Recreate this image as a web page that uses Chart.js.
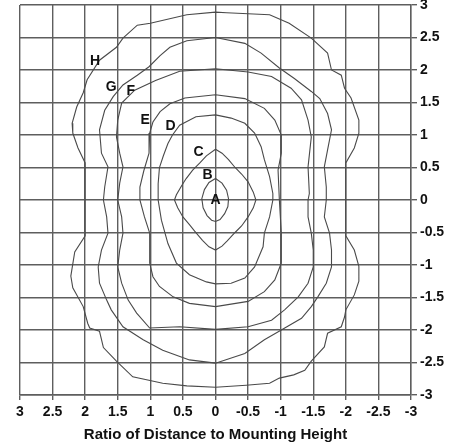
<!DOCTYPE html>
<html>
<head>
<meta charset="utf-8">
<script src="https://cdn.jsdelivr.net/npm/chart.js@4/dist/chart.umd.min.js"></script>
<style>
  html, body { margin: 0; padding: 0; background: #fff; }
  #wrap { width: 455px; height: 446px; }
</style>
</head>
<body>
<div id="wrap"><canvas id="grafico"></canvas></div>
<script>
// ticks on both axes (ratio of distance to mounting height)
const tickValues = [3, 2.5, 2, 1.5, 1, 0.5, 0, -0.5, -1, -1.5, -2, -2.5, -3];

// contour B
const bX = [0, 0.1, 0.17, 0.21, 0.19, 0.13, 0.06, 0, -0.07, -0.14, -0.19, -0.2, -0.17, -0.1, 0];
const bY = [0.33, 0.27, 0.16, 0.02, -0.12, -0.24, -0.31, -0.33, -0.3, -0.21, -0.1, 0.02, 0.15, 0.26, 0.33];

// contour C
const cX = [0, 0.14, 0.24, 0.35, 0.45, 0.52, 0.6, 0.63, 0.58, 0.5, 0.4, 0.32, 0.2, 0.1, 0,
            -0.1, -0.18, -0.3, -0.4, -0.5, -0.58, -0.62, -0.58, -0.5, -0.4, -0.3, -0.2, -0.1, 0];
const cY = [0.78, 0.68, 0.57, 0.46, 0.33, 0.22, 0.08, 0, -0.12, -0.26, -0.38, -0.48, -0.62, -0.72, -0.77,
            -0.71, -0.63, -0.5, -0.4, -0.26, -0.12, 0, 0.12, 0.28, 0.4, 0.5, 0.62, 0.72, 0.78];

// contour D
const dX = [0, 0.3, 0.55, 0.66, 0.73, 0.8, 0.86, 0.88, 0.88, 0.83, 0.73, 0.6, 0.4, 0.14, 0,
            -0.24, -0.45, -0.6, -0.73, -0.75, -0.83, -0.88, -0.88, -0.83, -0.75, -0.7, -0.6, -0.45, -0.24, 0];
const dY = [1.31, 1.28, 1.15, 1.0, 0.87, 0.68, 0.5, 0.25, 0, -0.31, -0.67, -0.97, -1.15, -1.26, -1.29,
            -1.28, -1.2, -1.03, -0.72, -0.51, -0.26, 0, 0.1, 0.36, 0.62, 0.82, 1.03, 1.18, 1.26, 1.31];

// contour E
const eX = [0, 0.47, 0.7, 0.85, 0.96, 1.01, 1.02, 1.1, 1.16, 1.16, 1.09, 1.01, 1.01, 0.96, 0.86, 0.65, 0.4, 0,
            -0.5, -0.75, -0.91, -1.01, -1.01, -0.98, -0.96, -1.01, -1.01, -0.91, -0.75, -0.45, 0];
const eY = [1.62, 1.57, 1.48, 1.36, 1.2, 1.03, 0.72, 0.45, 0.2, 0, -0.26, -0.51, -0.97, -1.18, -1.33, -1.49, -1.59, -1.64,
            -1.56, -1.41, -1.23, -0.97, -0.51, 0, 0.46, 0.72, 1.0, 1.23, 1.41, 1.56, 1.62];

// contour F
const fX = [0, 0.55, 0.92, 1.24, 1.44, 1.5, 1.52, 1.47, 1.42, 1.47, 1.5, 1.44, 1.42, 1.47, 1.5, 1.44, 1.34, 1.21, 1.01, 0.55, 0,
            -0.5, -0.86, -1.06, -1.27, -1.42, -1.5, -1.5, -1.47, -1.42, -1.42, -1.44, -1.42, -1.47, -1.42, -1.32, -1.16, -0.86, -0.5, 0];
const fY = [2.02, 1.98, 1.84, 1.69, 1.49, 1.23, 0.97, 0.72, 0.51, 0.26, 0, -0.26, -0.51, -0.77, -1.03, -1.28, -1.54, -1.74, -1.97, -1.95, -1.99,
            -1.95, -1.85, -1.69, -1.49, -1.28, -1.03, -0.77, -0.51, -0.26, 0, 0.1, 0.51, 0.97, 1.23, 1.54, 1.72, 1.9, 1.97, 2.02];

// contour G
const gX = [0, 0.44, 0.7, 0.85, 1.02, 1.2, 1.42, 1.57, 1.7, 1.78, 1.75, 1.65, 1.7, 1.72,
            1.67, 1.65, 1.75, 1.8, 1.78, 1.67, 1.6, 1.42, 1.11, 0.81, 0.4, 0,
            -0.45, -0.75, -1.01, -1.32, -1.47, -1.57, -1.7, -1.78, -1.78, -1.75, -1.67, -1.7,
            -1.7, -1.67, -1.72, -1.78, -1.72, -1.6, -1.47, -1.21, -0.98, -0.7, -0.45, 0];
const gY = [2.5, 2.45, 2.35, 2.22, 2.05, 1.92, 1.77, 1.59, 1.38, 1.08, 0.72, 0.51, 0.2, 0,
            -0.26, -0.51, -0.77, -1.03, -1.28, -1.54, -1.69, -1.95, -2.15, -2.31, -2.46, -2.51,
            -2.36, -2.15, -2.0, -1.82, -1.64, -1.49, -1.28, -1.03, -0.77, -0.51, -0.26, 0,
            0.2, 0.51, 0.77, 1.08, 1.33, 1.56, 1.67, 1.87, 2.03, 2.26, 2.41, 2.5];

// contour H
const hX = [0, 0.44, 1.0, 1.2, 1.42, 1.52, 1.78, 1.97, 2.03, 2.13, 2.2, 2.19, 2.11, 2.0,
            2.0, 2.16, 2.22, 2.19, 2.03, 1.96, 1.93, 1.78, 1.72, 1.52, 1.27, 0.81, 0.44, 0,
            -0.47, -0.83, -0.98, -1.2, -1.37, -1.47, -1.67, -1.72, -1.93, -1.98, -2.0, -2.13, -2.2, -2.2, -2.13, -2.0,
            -2.0, -2.13, -2.2, -2.2, -2.08, -1.98, -1.93, -1.78, -1.72, -1.47, -1.13, -0.83, -0.17, 0];
const hY = [2.89, 2.85, 2.72, 2.69, 2.49, 2.35, 2.15, 1.85, 1.65, 1.43, 1.18, 1.03, 0.8, 0.57,
            -0.55, -0.8, -1.17, -1.35, -1.64, -1.9, -1.97, -2.02, -2.27, -2.48, -2.72, -2.82, -2.86, -2.88,
            -2.85, -2.82, -2.74, -2.69, -2.62, -2.48, -2.26, -2.05, -1.95, -1.8, -1.69, -1.46, -1.25, -1.02, -0.77, -0.55,
            0.57, 0.8, 1.03, 1.23, 1.57, 1.72, 1.92, 2.0, 2.26, 2.49, 2.72, 2.85, 2.88, 2.89];

// contour letters
const letras = ['H', 'G', 'F', 'E', 'D', 'C', 'B', 'A'];
const letrasX = [1.85, 1.6, 1.3, 1.08, 0.69, 0.26, 0.12, 0];
const letrasY = [2.13, 1.73, 1.67, 1.23, 1.13, 0.74, 0.38, 0];

function puntos(xs, ys) {
    return xs.map((x, i) => ({ x: x, y: ys[i] }));
}

function contorno(xs, ys) {
    return {
        data: puntos(xs, ys),
        showLine: true,
        borderColor: '#4a4a4a',
        borderWidth: 1.1,
        pointRadius: 0,
        tension: 0,
        fill: false
    };
}

const fuente = 'Liberation Sans, Arial, sans-serif';

const etiquetas = {
    id: 'etiquetas',
    afterDatasetsDraw(chart) {
        const ctx = chart.ctx;
        const sx = chart.scales.x;
        const sy = chart.scales.y;
        ctx.save();
        ctx.font = 'bold 14px ' + fuente;
        ctx.fillStyle = '#111';
        ctx.textAlign = 'center';
        ctx.textBaseline = 'middle';
        letras.forEach((t, i) => {
            ctx.fillText(t, sx.getPixelForValue(letrasX[i]), sy.getPixelForValue(letrasY[i]));
        });
        ctx.restore();
    }
};

// the outer labels may spill over the edges, as in the original
function sinRelleno(s) {
    s.paddingTop = 0;
    s.paddingBottom = 0;
    s.paddingLeft = 0;
    s.paddingRight = 0;
}

const ctx = document.getElementById('grafico').getContext('2d');
new Chart(ctx, {
    type: 'scatter',
    data: {
        datasets: [
            contorno(bX, bY),
            contorno(cX, cY),
            contorno(dX, dY),
            contorno(eX, eY),
            contorno(fX, fY),
            contorno(gX, gY),
            contorno(hX, hY)
        ]
    },
    options: {
        responsive: true,
        maintainAspectRatio: false,
        animation: false,
        layout: { padding: { left: 20, top: 5, right: 0, bottom: 0 } },
        plugins: {
            legend: { display: false },
            tooltip: { enabled: false }
        },
        scales: {
            x: {
                type: 'linear',
                reverse: true,
                min: -3,
                max: 3,
                afterBuildTicks: s => { s.ticks = tickValues.map(v => ({ value: v })); },
                afterFit: s => { s.height = 51; sinRelleno(s); },
                ticks: {
                    color: '#111',
                    padding: 4,
                    maxRotation: 0,
                    font: { family: fuente, size: 14, weight: 'bold' },
                    callback: v => String(v)
                },
                grid: { color: '#5e5e5e', lineWidth: 1.4, tickLength: 5, tickColor: '#5e5e5e' },
                border: { color: '#5e5e5e', width: 1.4 },
                title: {
                    display: true,
                    text: 'Ratio of Distance to Mounting Height',
                    color: '#111',
                    font: { family: fuente, size: 15, weight: 'bold' },
                    padding: { top: 0, bottom: 2 }
                }
            },
            y: {
                type: 'linear',
                position: 'right',
                min: -3,
                max: 3,
                afterBuildTicks: s => { s.ticks = tickValues.map(v => ({ value: v })); },
                afterFit: s => { s.width = 44; sinRelleno(s); },
                ticks: {
                    color: '#111',
                    padding: 3,
                    font: { family: fuente, size: 14, weight: 'bold' },
                    callback: v => String(v)
                },
                grid: { color: '#5e5e5e', lineWidth: 1.4, tickLength: 6, tickColor: '#5e5e5e' },
                border: { color: '#5e5e5e', width: 1.4 }
            }
        }
    },
    plugins: [etiquetas]
});
</script>
</body>
</html>
